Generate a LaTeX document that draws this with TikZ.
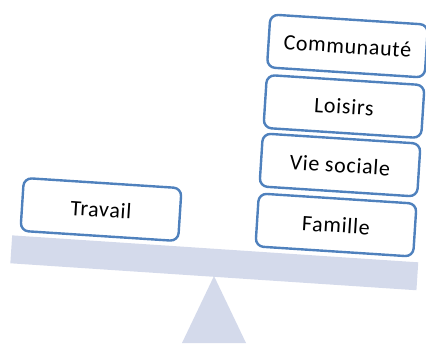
\documentclass[tikz,border=0pt]{standalone}
\usepackage{fontspec}
\setmainfont{Carlito}[LetterSpace=3]
\definecolor{boxblue}{RGB}{79,129,189}
\definecolor{beamc}{RGB}{212,218,235}
\begin{document}
\begin{tikzpicture}[x=1pt,y=-1pt,
  itembox/.style={draw=boxblue, line width=2.4pt, fill=white, rounded corners=8pt,
    minimum width=158pt, minimum height=53pt, inner sep=0pt, rotate=-3.7,
    font=\fontsize{22}{26}\selectfont, text=black},
  beam/.style={fill=beamc, draw=none, minimum width=407pt, minimum height=28pt,
    inner sep=0pt, rotate=-3.8}]
\useasboundingbox (0,0) rectangle (426,343);
\begin{scope}
\clip (0,0) rectangle (426,343);
\coordinate (apex) at (214,276);
\coordinate (bl) at (182,343);
\coordinate (br) at (246,343);
\fill[beamc] (apex) -- (br) -- (bl) -- cycle;
\node[beam] (lever) at (214.3,262.8) {};
\node[itembox] (travail) at (101,209.5) {Travail};
\node[itembox] (famille) at (336,225) {Famille};
\node[itembox] (vie) at (340,165) {Vie sociale};
\node[itembox] (loisirs) at (344,106.5) {Loisirs};
\node[itembox] (comm) at (347.5,46) {Communauté};
\end{scope}
\end{tikzpicture}
\end{document}
